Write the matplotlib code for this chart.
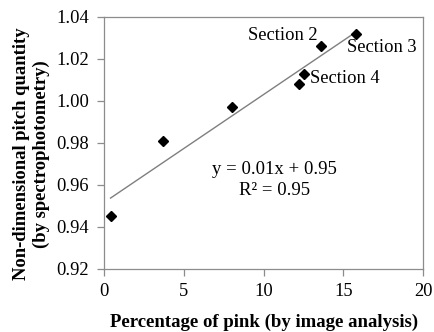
import numpy as np
import matplotlib.pyplot as plt

# values
pink_pct = [0.4, 3.7, 8.0, 12.2, 12.5, 13.6, 15.8]
pitch_qty = [0.945, 0.981, 0.997, 1.008, 1.013, 1.026, 1.032]
x_ticks = [0, 5, 10, 15, 20]
y_ticks = [0.92, 0.94, 0.96, 0.98, 1.00, 1.02, 1.04]

plt.rcParams["font.family"] = ["Liberation Serif", "DejaVu Serif"]

fig = plt.figure(figsize=(4.34, 3.32), dpi=100)
ax = fig.add_axes([0.240, 0.190, 0.735, 0.759])

# linear trendline over the data range
slope, icept = np.polyfit(pink_pct, pitch_qty, 1)
xs = np.array([min(pink_pct), max(pink_pct)])
ax.plot(xs, slope * xs + icept, color="#7f7f7f", lw=1.0, zorder=1)

ax.plot(pink_pct, pitch_qty, linestyle="none", marker="D", markersize=5.5,
        color="black", zorder=2)

ax.set_xlim(0, 20)
ax.set_ylim(0.92, 1.04)
ax.set_xticks(x_ticks)
ax.set_yticks(y_ticks)
ax.set_yticklabels([f"{v:.2f}" for v in y_ticks])

for sp in ax.spines.values():
    sp.set_color("#8c8c8c")
    sp.set_linewidth(0.9)
ax.tick_params(direction="out", length=5, width=0.9, color="#8c8c8c",
               labelsize=13.3)
ax.tick_params(axis="x", pad=5)
ax.tick_params(axis="y", pad=6)

ax.set_xlabel("Percentage of pink (by image analysis)", fontsize=13.5,
              fontweight="bold", labelpad=10)
# y label placed by hand so both lines sit where the reference has them
fig.text(0.073, 0.536, "Non-dimensional pitch quantity\n(by spectrophotometry)",
         fontsize=13.4, fontweight="bold", rotation=90, ha="center",
         va="center", multialignment="center", linespacing=1.25)

ax.text(11.2, 1.031, "Section 2", fontsize=13.3, ha="center", va="center")
ax.text(15.2, 1.0256, "Section 3", fontsize=13.3, ha="left", va="center")
ax.text(12.9, 1.0105, "Section 4", fontsize=13.3, ha="left", va="center")
ax.text(10.7, 0.9625, "y = 0.01x + 0.95\nR² = 0.95", fontsize=13.5,
        ha="center", va="center", linespacing=1.3)

fig.savefig("out.png", dpi=100)
